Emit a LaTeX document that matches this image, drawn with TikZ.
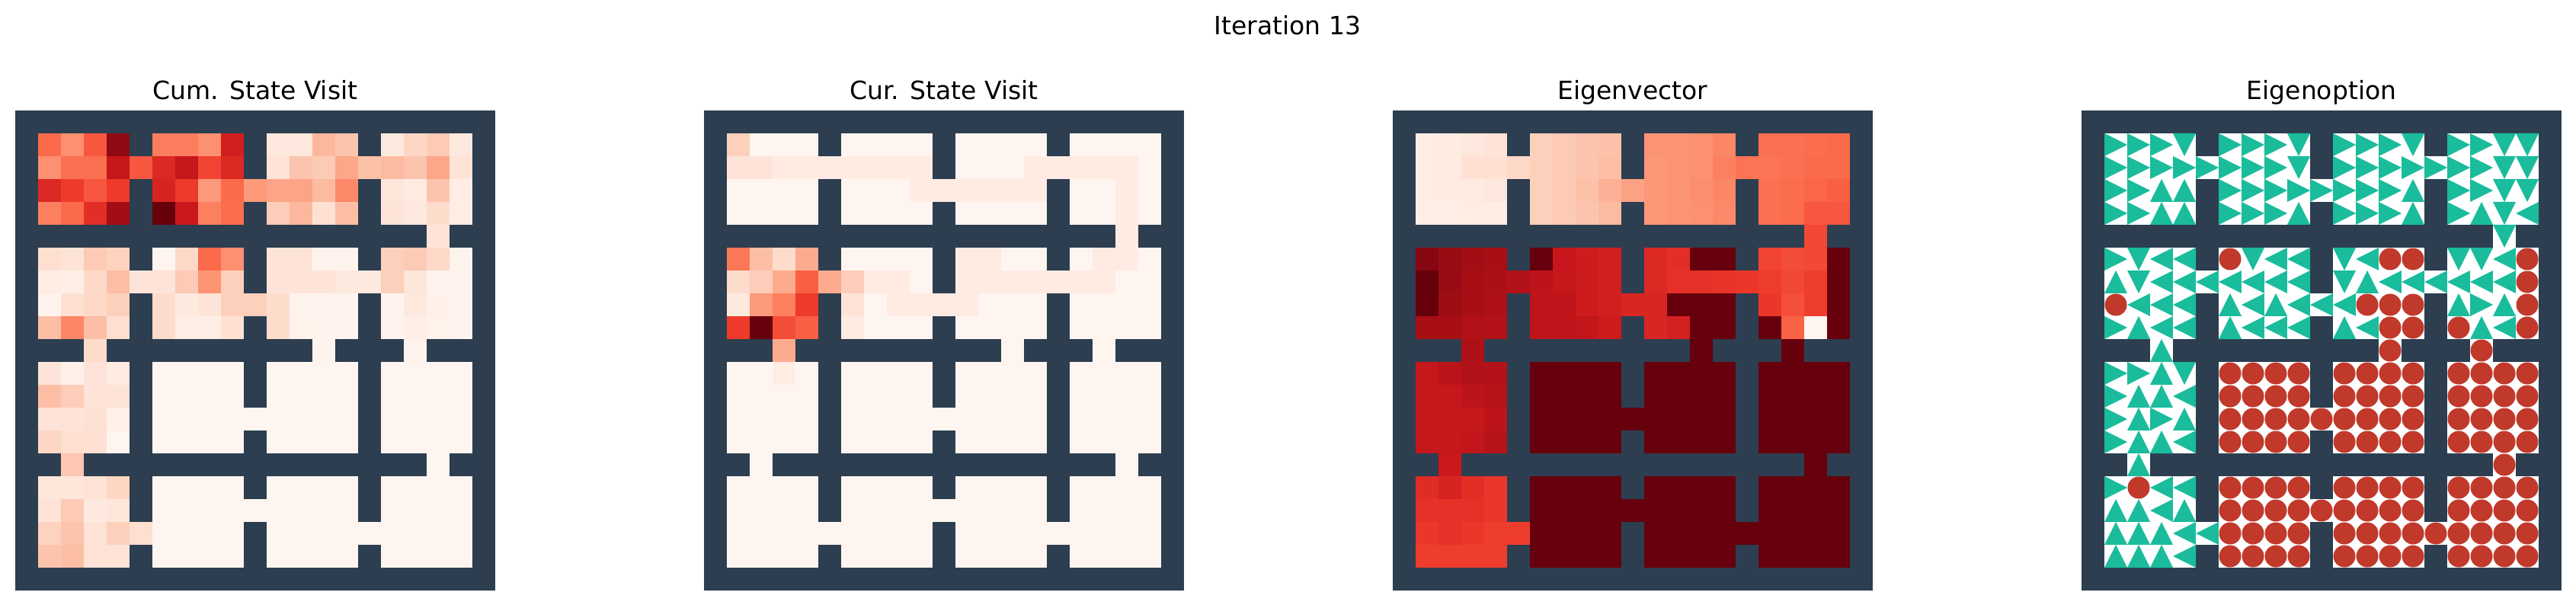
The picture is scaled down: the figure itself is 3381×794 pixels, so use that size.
\documentclass[tikz,border=0pt]{standalone}
\usepackage{fontspec}
\setmainfont{DejaVu Sans}
\definecolor{wallc}{HTML}{2C3E50}
\definecolor{optteal}{HTML}{1ABC9C}
\definecolor{optred}{HTML}{C0392B}
\definecolor{R0}{HTML}{FFF5F0}
\definecolor{R1}{HTML}{FEE0D2}
\definecolor{R2}{HTML}{FCBBA1}
\definecolor{R3}{HTML}{FC9272}
\definecolor{R4}{HTML}{FB6A4A}
\definecolor{R5}{HTML}{EF3B2C}
\definecolor{R6}{HTML}{CB181D}
\definecolor{R7}{HTML}{A50F15}
\definecolor{R8}{HTML}{67000D}
\newcommand\heatpanel[2]{%
  \fill[wallc] (#1,145) rectangle ++(630,630);
  \foreach \rowdata [count=\r] in {#2} {
    \foreach \v [count=\c] in \rowdata {
      \ifnum\v<0\else
        \pgfmathtruncatemacro\ii{min(7,\v*8/100)}
        \pgfmathtruncatemacro\jj{\ii+1}
        \pgfmathtruncatemacro\pp{round(100*(1-(\v*8/100-\ii)))}
        \pgfmathsetmacro\xa{#1+\c*30}
        \pgfmathsetmacro\ya{145+\r*30}
        \fill[color=R\ii!\pp!R\jj] (\xa,\ya) rectangle ++(30.4,30.4);
      \fi
    }
  }
}
\newcommand\optpanel[2]{%
  \fill[wallc] (#1,145) rectangle ++(630,630);
  \foreach \rowdata [count=\r] in {#2} {
    \foreach \v [count=\c] in \rowdata {
      \ifnum\v<0\else
        \pgfmathsetmacro\xa{#1+\c*30}
        \pgfmathsetmacro\ya{145+\r*30}
        \fill[white] (\xa,\ya) rectangle ++(30.4,30.4);
        \ifcase\v
          \fill[optred] (\xa+15,\ya+15) circle[radius=14.5pt];
        \or
          \fill[optteal] (\xa,\ya) -- (\xa+30,\ya+15) -- (\xa,\ya+30) -- cycle;
        \or
          \fill[optteal] (\xa,\ya+30) -- (\xa+15,\ya) -- (\xa+30,\ya+30) -- cycle;
        \or
          \fill[optteal] (\xa+30,\ya) -- (\xa,\ya+15) -- (\xa+30,\ya+30) -- cycle;
        \or
          \fill[optteal] (\xa,\ya) -- (\xa+15,\ya+30) -- (\xa+30,\ya) -- cycle;
        \fi
      \fi
    }
  }
}
\begin{document}
\begin{tikzpicture}[x=1pt,y=-1pt,
  ttl/.style={font=\fontsize{33}{40}\selectfont, anchor=base, inner sep=0pt}]
\useasboundingbox (0,0) rectangle (3381,794);
\node[ttl] (title) at (1690,46) {Iteration 13};
\node[ttl] (t1) at (335,131) {Cum. State Visit};
\node[ttl] (t2) at (1239,131) {Cur. State Visit};
\node[ttl] (t3) at (2143,131) {Eigenvector};
\node[ttl] (t4) at (3047,131) {Eigenoption};
% Panel 1
\heatpanel{20}{%
{50,38,55,92,-1,44,44,38,73,-1,8,8,26,22,-1,7,16,20,7},
{38,48,48,77,55,69,77,60,69,-1,11,22,20,31,23,25,22,31,11},
{69,63,55,63,-1,71,63,35,50,35,32,32,25,40,-1,9,6,22,5},
{43,50,67,88,-1,100,75,43,49,-1,19,26,12,24,-1,10,7,14,5},
{-1,-1,-1,-1,-1,-1,-1,-1,-1,-1,-1,-1,-1,-1,-1,-1,-1,10,-1},
{13,10,20,17,-1,0,15,50,38,-1,10,10,1,1,-1,18,20,15,1},
{5,4,15,24,10,10,20,37,18,-1,10,10,10,7,7,18,9,1,1},
{1,12,15,18,-1,14,7,10,18,18,14,1,1,1,-1,1,7,3,1},
{24,41,24,13,-1,14,4,4,12,-1,14,2,1,1,-1,1,4,2,1},
{-1,-1,14,-1,-1,-1,-1,-1,-1,-1,-1,-1,1,-1,-1,-1,1,-1,-1},
{10,3,10,6,-1,0,0,0,0,-1,0,0,0,0,-1,0,0,0,0},
{24,19,10,10,-1,0,0,0,0,-1,0,0,0,0,-1,0,0,0,0},
{10,10,12,3,-1,0,0,0,0,0,0,0,0,0,-1,0,0,0,0},
{16,13,12,0,-1,0,0,0,0,-1,0,0,0,0,-1,0,0,0,0},
{-1,21,-1,-1,-1,-1,-1,-1,-1,-1,-1,-1,-1,-1,-1,-1,-1,0,-1},
{9,9,11,16,-1,0,0,0,0,-1,0,0,0,0,-1,0,0,0,0},
{11,20,7,9,-1,0,0,0,0,0,0,0,0,0,-1,0,0,0,0},
{17,22,11,18,13,0,0,0,0,-1,0,0,0,0,0,0,0,0,0},
{22,24,11,11,-1,0,0,0,0,-1,0,0,0,0,-1,0,0,0,0}}
% Panel 2
\heatpanel{924}{%
{18,0,0,0,-1,0,0,0,0,-1,0,0,0,0,-1,0,0,0,0},
{10,10,6,6,6,6,6,6,6,-1,0,0,0,6,6,6,6,6,0},
{0,0,0,0,-1,0,0,0,6,6,6,6,6,6,-1,0,0,6,0},
{0,0,0,0,-1,0,0,0,0,-1,0,0,0,0,-1,0,0,6,0},
{-1,-1,-1,-1,-1,-1,-1,-1,-1,-1,-1,-1,-1,-1,-1,-1,-1,6,-1},
{46,24,14,30,-1,0,0,0,0,-1,6,6,0,0,-1,0,6,6,0},
{14,19,30,53,30,19,6,6,0,-1,6,6,6,6,6,6,6,0,0},
{7,35,43,63,-1,11,0,6,6,6,6,0,0,0,-1,0,0,0,0},
{63,100,58,53,-1,6,0,0,0,-1,0,0,0,0,-1,0,0,0,0},
{-1,-1,30,-1,-1,-1,-1,-1,-1,-1,-1,-1,0,-1,-1,-1,0,-1,-1},
{0,0,5,0,-1,0,0,0,0,-1,0,0,0,0,-1,0,0,0,0},
{0,0,0,0,-1,0,0,0,0,-1,0,0,0,0,-1,0,0,0,0},
{0,0,0,0,-1,0,0,0,0,0,0,0,0,0,-1,0,0,0,0},
{0,0,0,0,-1,0,0,0,0,-1,0,0,0,0,-1,0,0,0,0},
{-1,0,-1,-1,-1,-1,-1,-1,-1,-1,-1,-1,-1,-1,-1,-1,-1,0,-1},
{0,0,0,0,-1,0,0,0,0,-1,0,0,0,0,-1,0,0,0,0},
{0,0,0,0,-1,0,0,0,0,0,0,0,0,0,-1,0,0,0,0},
{0,0,0,0,0,0,0,0,0,-1,0,0,0,0,0,0,0,0,0},
{0,0,0,0,-1,0,0,0,0,-1,0,0,0,0,-1,0,0,0,0}}
% Panel 3
\heatpanel{1828}{%
{5,6,8,11,-1,18,20,22,23,-1,37,37,38,41,-1,48,48,49,50},
{5,6,12,12,15,18,20,22,24,-1,36,37,38,43,47,47,48,50,50},
{5,6,6,8,-1,18,20,23,28,33,36,37,39,41,-1,48,49,51,53},
{4,4,5,5,-1,18,20,22,25,-1,36,37,38,40,-1,48,49,55,55},
{-1,-1,-1,-1,-1,-1,-1,-1,-1,-1,-1,-1,-1,-1,-1,-1,-1,59,-1},
{94,90,88,87,-1,100,76,74,73,-1,69,67,100,100,-1,60,58,59,100},
{100,90,87,86,83,80,77,74,73,-1,69,66,66,65,64,62,59,62,100},
{100,89,87,85,-1,79,79,74,73,70,70,100,100,100,-1,64,57,62,100},
{87,87,84,83,-1,79,79,78,74,-1,70,72,100,100,-1,100,52,0,100},
{-1,-1,85,-1,-1,-1,-1,-1,-1,-1,-1,-1,100,-1,-1,-1,100,-1,-1},
{77,81,84,83,-1,100,100,100,100,-1,100,100,100,100,-1,100,100,100,100},
{77,77,80,82,-1,100,100,100,100,-1,100,100,100,100,-1,100,100,100,100},
{77,77,77,80,-1,100,100,100,100,100,100,100,100,100,-1,100,100,100,100},
{77,77,78,82,-1,100,100,100,100,-1,100,100,100,100,-1,100,100,100,100},
{-1,75,-1,-1,-1,-1,-1,-1,-1,-1,-1,-1,-1,-1,-1,-1,-1,100,-1},
{68,71,67,64,-1,100,100,100,100,-1,100,100,100,100,-1,100,100,100,100},
{66,66,66,64,-1,100,100,100,100,100,100,100,100,100,-1,100,100,100,100},
{64,66,64,62,62,100,100,100,100,-1,100,100,100,100,100,100,100,100,100},
{62,62,62,62,-1,100,100,100,100,-1,100,100,100,100,-1,100,100,100,100}}
% Panel 4
\optpanel{2732}{%
{1,1,1,4,-1,1,1,1,4,-1,1,1,1,4,-1,1,1,4,4},
{1,1,1,1,1,1,1,1,4,-1,1,1,1,1,1,1,1,4,4},
{1,1,2,2,-1,1,1,1,1,1,1,1,1,2,-1,1,1,4,4},
{1,1,2,2,-1,1,1,1,2,-1,1,1,1,2,-1,1,2,4,3},
{-1,-1,-1,-1,-1,-1,-1,-1,-1,-1,-1,-1,-1,-1,-1,-1,-1,4,-1},
{1,4,3,3,-1,0,4,3,3,-1,4,3,0,0,-1,4,4,3,0},
{2,4,3,3,3,3,3,3,3,-1,4,2,3,3,3,3,3,3,0},
{0,3,3,3,-1,2,3,2,3,3,3,0,0,0,-1,2,1,2,0},
{1,2,3,3,-1,2,3,3,3,-1,2,3,0,0,-1,0,2,3,0},
{-1,-1,2,-1,-1,-1,-1,-1,-1,-1,-1,-1,0,-1,-1,-1,0,-1,-1},
{1,1,2,4,-1,0,0,0,0,-1,0,0,0,0,-1,0,0,0,0},
{1,2,2,3,-1,0,0,0,0,-1,0,0,0,0,-1,0,0,0,0},
{1,2,1,2,-1,0,0,0,0,0,0,0,0,0,-1,0,0,0,0},
{1,2,2,3,-1,0,0,0,0,-1,0,0,0,0,-1,0,0,0,0},
{-1,2,-1,-1,-1,-1,-1,-1,-1,-1,-1,-1,-1,-1,-1,-1,-1,0,-1},
{1,0,3,3,-1,0,0,0,0,-1,0,0,0,0,-1,0,0,0,0},
{2,2,3,2,-1,0,0,0,0,0,0,0,0,0,-1,0,0,0,0},
{2,2,2,3,3,0,0,0,0,-1,0,0,0,0,0,0,0,0,0},
{2,2,2,3,-1,0,0,0,0,-1,0,0,0,0,-1,0,0,0,0}}
\end{tikzpicture}
\end{document}
